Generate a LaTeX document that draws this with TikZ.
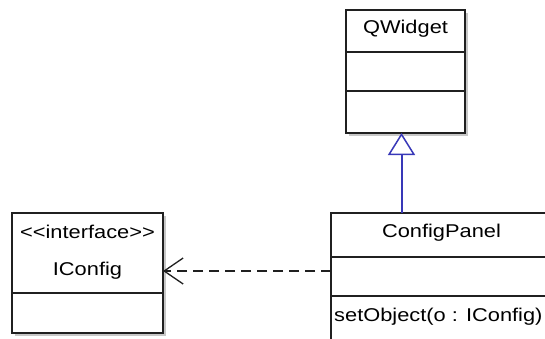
\documentclass[tikz,border=0pt]{standalone}
\usepackage{fontspec}
\setmainfont{Liberation Sans}
\usetikzlibrary{arrows.meta}
\definecolor{umlline}{RGB}{32,32,32}
\definecolor{genblue}{RGB}{56,56,184}
\newcommand{\umltxt}[1]{\scalebox{1.18}[1]{\fontsize{18.5}{21}\selectfont #1}}
\tikzset{
  classbox/.style={draw=umlline, line width=1.6pt, fill=white, anchor=north west,
    inner sep=0pt, outer sep=0pt},
  shadowbox/.style={fill=black!22, draw=none},
  divider/.style={draw=umlline, line width=1.6pt},
  lbl/.style={inner sep=0pt, anchor=base},
  generalization/.style={draw=genblue, line width=2pt,
    -{Triangle[open, length=22pt, width=27pt, fill=white, line width=1.5pt]}},
  dependency/.style={draw=umlline, line width=1.3pt, dash pattern=on 10pt off 6pt,
    -{Straight Barb[length=19pt, width=26pt, line width=1.3pt]}},
}
\begin{document}
\begin{tikzpicture}[x=1pt, y=-1pt]
\useasboundingbox (0,0) rectangle (545,338);
\fill[white] (0,0) rectangle (545,338);
\begin{scope}
\clip (0,0) rectangle (545,338);
% drop shadows
\fill[shadowbox] (348.5,12.5) rectangle (467.5,135.5);
\fill[shadowbox] (14.5,215.5) rectangle (165.5,335.5);
\fill[shadowbox] (333.5,215.5) rectangle (554.5,360);
% QWidget class
\node[classbox, minimum width=119pt, minimum height=123pt] (qw) at (346,10) {};
\draw[divider] (346,52) -- (465,52);
\draw[divider] (346,91) -- (465,91);
\node[lbl] (qwname) at (405.5,33) {\umltxt{QWidget}};
% IConfig interface
\node[classbox, minimum width=151pt, minimum height=120pt] (ic) at (12,213) {};
\draw[divider] (12,293) -- (163,293);
\node[lbl] (icstereo) at (87.5,238) {\umltxt{<{}<interface>{}>}};
\node[lbl] (icname) at (87.5,275) {\umltxt{IConfig}};
% ConfigPanel class
\node[classbox, minimum width=221pt, minimum height=140pt] (cp) at (331,213) {};
\draw[divider] (331,257) -- (552,257);
\draw[divider] (331,296) -- (552,296);
\node[lbl] (cpname) at (441.5,237) {\umltxt{ConfigPanel}};
\node[lbl, anchor=base west] (cpop) at (334,321) {\umltxt{setObject(o : IConfig)}};
\end{scope}
% relations
\coordinate (cptop) at (401.5,213);
\coordinate (qwbot) at (401.5,133);
\draw[generalization] (cptop) -- (qwbot);
\coordinate (cpleft) at (331,271);
\coordinate (icright) at (163,271);
\draw[dependency] (cpleft) -- (icright);
\end{tikzpicture}
\end{document}
